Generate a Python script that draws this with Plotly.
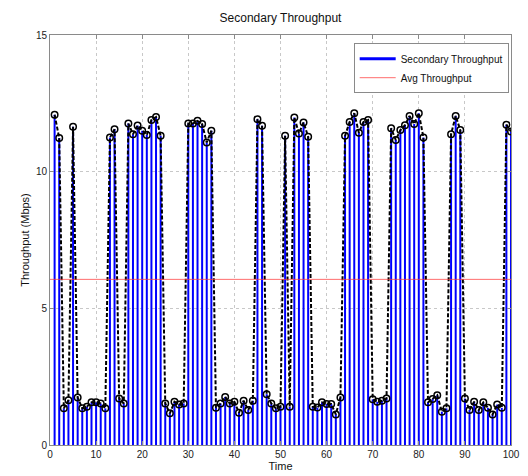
import plotly.graph_objects as go

time = list(range(1, 101))
throughput = [
    12.08, 11.23, 1.34, 1.64, 11.64, 1.74, 1.34, 1.40, 1.56, 1.56,
    1.52, 1.34, 11.25, 11.55, 1.70, 1.52, 11.76, 11.37, 11.69, 11.50,
    11.34, 11.89, 12.00, 11.31, 1.52, 1.16, 1.58, 1.48, 1.52, 11.76,
    11.76, 11.86, 11.74, 11.07, 11.50, 1.36, 1.52, 1.76, 1.52, 1.58,
    1.18, 1.62, 1.28, 1.62, 11.92, 11.68, 1.86, 1.52, 1.34, 1.40,
    11.31, 1.40, 11.98, 11.40, 11.80, 11.28, 1.40, 1.37, 1.56, 1.50,
    1.50, 1.12, 1.74, 11.31, 11.82, 12.14, 11.42, 11.82, 11.89, 1.67,
    1.58, 1.62, 1.70, 11.59, 11.16, 11.52, 11.70, 12.04, 11.74, 12.14,
    11.25, 1.56, 1.68, 1.82, 1.22, 1.34, 11.37, 12.04, 11.52, 1.70,
    1.28, 1.58, 1.28, 1.56, 1.36, 1.12, 1.48, 1.36, 11.72, 11.47,
]
avg_throughput = 6.06
x_ticks = [0, 10, 20, 30, 40, 50, 60, 70, 80, 90, 100]
y_ticks = [0, 5, 10, 15]

# stems built from the data
stem_x, stem_y = [], []
for t, v in zip(time, throughput):
    stem_x += [t, t, None]
    stem_y += [0, v, None]

fig = go.Figure()
fig.add_trace(go.Scatter(x=stem_x, y=stem_y, mode="lines",
                         line=dict(color="#0000ff", width=2),
                         showlegend=False, hoverinfo="skip"))
fig.add_trace(go.Scatter(x=time, y=throughput, mode="lines+markers",
                         line=dict(color="black", width=2, dash="4px,2px"),
                         marker=dict(symbol="circle-open", size=6.5, color="black",
                                     line=dict(width=1.5, color="black")),
                         showlegend=False))
fig.add_trace(go.Scatter(x=[None], y=[None], mode="lines",
                         line=dict(color="#0000ff", width=3),
                         name="Secondary Throughput"))
fig.add_trace(go.Scatter(x=[0, 100], y=[avg_throughput, avg_throughput], mode="lines",
                         line=dict(color="rgba(255,60,60,0.75)", width=1),
                         name="Avg Throughput"))

axis_common = dict(showgrid=True, gridcolor="#c8c8c8", griddash="dot", gridwidth=1,
                   showline=True, linecolor="#8a8a8a", linewidth=1, mirror="ticks",
                   ticks="inside", ticklen=4, tickcolor="#8a8a8a", zeroline=False,
                   ticklabeloverflow="allow",
                   tickfont=dict(size=10, color="#222"))

fig.update_layout(
    width=528, height=476,
    margin=dict(l=50, r=8, t=35, b=30),
    paper_bgcolor="white", plot_bgcolor="white",
    font=dict(family="Liberation Sans, Arial, sans-serif", color="#111"),
    title=dict(text="Secondary Throughput", x=0.5, xanchor="center",
               xref="paper", y=0.962, yanchor="middle", font=dict(size=12)),
    xaxis=dict(range=[0, 100], tickvals=x_ticks,
               title=dict(text="Time", font=dict(size=11), standoff=0), **axis_common),
    yaxis=dict(range=[0, 15], tickvals=y_ticks,
               title=dict(text="Throughput (Mbps)", font=dict(size=11), standoff=4), **axis_common),
    legend=dict(x=0.995, y=0.98, xanchor="right", yanchor="top",
                bgcolor="white", bordercolor="#8a8a8a", borderwidth=1,
                font=dict(size=10), tracegroupgap=0, itemwidth=36),
    showlegend=True,
)

fig.write_html("out.html", config={"displayModeBar": False},
               post_script="document.body.style.margin='0px';document.body.style.overflow='hidden';")
